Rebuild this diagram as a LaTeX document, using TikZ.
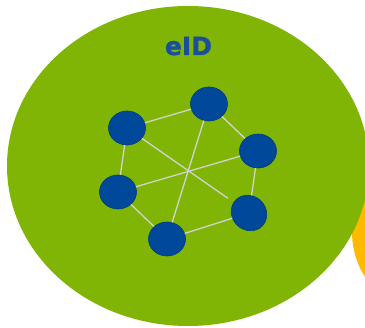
\documentclass[tikz,border=0pt]{standalone}
\usepackage{fontspec}
\newfontfamily\eidfont[BoldFont={DejaVu Sans Bold}, BoldFeatures={FakeBold=1.2}]{DejaVu Sans}
\usetikzlibrary{shapes.geometric}
\definecolor{eidgreen}{HTML}{80B505}
\definecolor{eidorange}{HTML}{FFBA00}
\definecolor{eidblue}{HTML}{00489A}
\definecolor{eidtext}{HTML}{1A4F9E}
\definecolor{eidline}{HTML}{D2D2D2}
\tikzset{
  netnode/.style={ellipse, fill=eidblue, draw=eidblue!80!black, line width=0.6pt,
    minimum width=37pt, minimum height=34pt, inner sep=0pt},
  netlink/.style={draw=eidline, line width=1.3pt}
}
\begin{document}
\begin{tikzpicture}[x=1pt,y=-1pt]
\useasboundingbox (0,0) rectangle (365,328);
\begin{scope}
\clip (0,0) rectangle (365,328);
\fill[eidorange] (432,232) ellipse [x radius=80, y radius=82];
\fill[eidgreen] (188,166) ellipse [x radius=181, y radius=160];
\end{scope}
\node[anchor=base, text=eidtext, font=\eidfont\bfseries\fontsize{25}{27}\selectfont] (title) at (188.5,55) {eID};
\node[netnode] (a) at (209,104) {};
\node[netnode] (b) at (127,128) {};
\node[netnode] (c) at (258,151) {};
\node[netnode] (d) at (118,192) {};
\node[netnode, rotate=-45] (e) at (249,213) {};
\node[netnode] (f) at (167,239) {};
\draw[netlink] (a) -- (b);
\draw[netlink] (a) -- (c);
\draw[netlink] (c) -- (e);
\draw[netlink] (e) -- (f);
\draw[netlink] (f) -- (d);
\draw[netlink] (d) -- (b);
\draw[netlink] (a) -- (f);
\draw[netlink, shorten >=7pt] (b) -- (e);
\draw[netlink] (c) -- (d);
\end{tikzpicture}
\end{document}
